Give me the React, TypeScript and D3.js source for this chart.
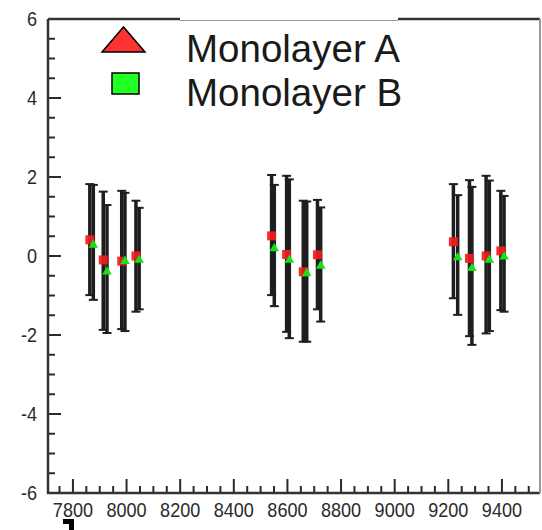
import React, { useEffect, useRef } from "react";
import * as d3 from "d3";

// Monolayer A (drawn as red squares)
const xA = [7863, 7913, 7982, 8035, 8541, 8597, 8659, 8712, 9219, 9279, 9341, 9396];
const yA = [0.41, -0.1, -0.13, 0.0, 0.51, 0.04, -0.4, 0.03, 0.36, -0.06, 0.0, 0.13];
const hiA = [1.82, 1.63, 1.65, 1.4, 2.05, 2.03, 1.4, 1.42, 1.82, 1.92, 2.03, 1.65];
const loA = [-0.99, -1.87, -1.85, -1.41, -0.99, -1.92, -2.17, -1.35, -1.07, -2.03, -1.96, -1.37];

// Monolayer B (drawn as green triangles)
const xB = [7876, 7927, 7994, 8047, 8551, 8607, 8672, 8724, 9235, 9288, 9353, 9408];
const yB = [0.28, -0.4, -0.13, -0.1, 0.19, -0.1, -0.44, -0.25, -0.04, -0.31, -0.1, -0.02];
const hiB = [1.8, 1.29, 1.6, 1.22, 1.8, 1.94, 1.38, 1.23, 1.54, 1.75, 1.91, 1.52];
const loB = [-1.11, -1.95, -1.9, -1.35, -1.27, -2.08, -2.17, -1.66, -1.49, -2.25, -1.9, -1.41];

const xTickLabels = [7800, 8000, 8200, 8400, 8600, 8800, 9000, 9200, 9400];
const yTickLabels = [6, 4, 2, 0, -2, -4, -6];
const seriesNames = ["Monolayer A", "Monolayer B"];

interface Pt {
  x: number;
  y: number;
  lo: number;
  hi: number;
}

export default function App() {
  const svgRef = useRef<SVGSVGElement>(null);

  useEffect(() => {
    const width = 542;
    const height = 530;
    const left = 48;
    const right = 540;
    const top = 19;
    const bottom = 493;

    const svg = d3.select(svgRef.current).attr("width", width).attr("height", height);
    svg.selectAll("*").remove();

    const x = d3.scaleLinear().domain([7707, 9542]).range([left, right]);
    const y = d3.scaleLinear().domain([-6, 6]).range([bottom, top]);

    const font = "'Liberation Sans', Arial, sans-serif";
    const ink = "#2a2a2a";

    // minor + major ticks on y (every 0.5)
    const yTicks = d3.range(-6, 6.01, 0.5);
    svg
      .append("g")
      .selectAll("line")
      .data(yTicks)
      .join("line")
      .attr("x1", left)
      .attr("x2", (d) => left + (Math.abs(d % 2) < 1e-6 ? 13 : 7))
      .attr("y1", (d) => y(d))
      .attr("y2", (d) => y(d))
      .attr("stroke", ink)
      .attr("stroke-width", 2);

    // minor + major ticks on x (every 50)
    const xTicks = d3.range(7750, 9501, 50);
    svg
      .append("g")
      .selectAll("line")
      .data(xTicks)
      .join("line")
      .attr("x1", (d) => x(d))
      .attr("x2", (d) => x(d))
      .attr("y1", bottom)
      .attr("y2", (d) => bottom - ((d - 7800) % 200 === 0 ? 14 : 7))
      .attr("stroke", ink)
      .attr("stroke-width", 2);

    // tick labels (slightly tall, condensed look)
    svg
      .append("g")
      .selectAll("text")
      .data(xTickLabels)
      .join("text")
      .attr("transform", (d) => `translate(${x(d)},${bottom + 24}) scale(0.95,1.1)`)
      .attr("text-anchor", "middle")
      .style("font-family", font)
      .style("font-size", "19px")
      .attr("fill", ink)
      .text((d) => String(d));

    svg
      .append("g")
      .selectAll("text")
      .data(yTickLabels)
      .join("text")
      .attr("transform", (d) => `translate(37,${y(d) + 7}) scale(0.95,1.1)`)
      .attr("text-anchor", "end")
      .style("font-family", font)
      .style("font-size", "19px")
      .attr("fill", ink)
      .text((d) => (d < 0 ? "-" + Math.abs(d) : String(d)));

    // frame
    svg
      .append("path")
      .attr("d", `M${left},${top}V${bottom}H${right}`)
      .attr("fill", "none")
      .attr("stroke", "#333")
      .attr("stroke-width", 2.5);
    svg
      .append("line")
      .attr("x1", left)
      .attr("x2", right)
      .attr("y1", top)
      .attr("y2", top)
      .attr("stroke", "#333")
      .attr("stroke-width", 2.5);
    svg
      .append("line")
      .attr("x1", right)
      .attr("x2", right)
      .attr("y1", top)
      .attr("y2", bottom)
      .attr("stroke", "#999")
      .attr("stroke-width", 2);

    const A: Pt[] = xA.map((v, i) => ({ x: v, y: yA[i], lo: loA[i], hi: hiA[i] }));
    const B: Pt[] = xB.map((v, i) => ({ x: v, y: yB[i], lo: loB[i], hi: hiB[i] }));

    // error bars
    const drawBars = (pts: Pt[]) => {
      const g = svg.append("g");
      g.selectAll("line.bar")
        .data(pts)
        .join("line")
        .attr("class", "bar")
        .attr("x1", (d) => x(d.x))
        .attr("x2", (d) => x(d.x))
        .attr("y1", (d) => y(d.lo))
        .attr("y2", (d) => y(d.hi))
        .attr("stroke", "#1e1e1e")
        .attr("stroke-width", 3.5);
      ["lo", "hi"].forEach((k) => {
        g.selectAll(`line.cap-${k}`)
          .data(pts)
          .join("line")
          .attr("class", `cap-${k}`)
          .attr("x1", (d) => x(d.x) - 4.5)
          .attr("x2", (d) => x(d.x) + 4.5)
          .attr("y1", (d) => y(d[k as "lo" | "hi"]))
          .attr("y2", (d) => y(d[k as "lo" | "hi"]))
          .attr("stroke", "#1e1e1e")
          .attr("stroke-width", 2);
      });
    };
    drawBars(A);
    drawBars(B);

    // markers
    svg
      .append("g")
      .selectAll("rect")
      .data(A)
      .join("rect")
      .attr("x", (d) => x(d.x) - 4.5)
      .attr("y", (d) => y(d.y) - 4.5)
      .attr("width", 9)
      .attr("height", 9)
      .attr("fill", "#f21c1c")
      .attr("fill-opacity", 0.92);

    const tri = d3.symbol().type(d3.symbolTriangle).size(40);
    svg
      .append("g")
      .selectAll("path")
      .data(B)
      .join("path")
      .attr("transform", (d) => `translate(${x(d.x)},${y(d.y)})`)
      .attr("d", tri)
      .attr("fill", "#18e018");

    // legend (box covers part of the top frame)
    svg
      .append("rect")
      .attr("x", 180)
      .attr("y", 16)
      .attr("width", 218)
      .attr("height", 5)
      .attr("fill", "#fff");
    svg
      .append("line")
      .attr("x1", 180)
      .attr("x2", 398)
      .attr("y1", 20.5)
      .attr("y2", 20.5)
      .attr("stroke", "#999")
      .attr("stroke-width", 1);

    const legend = svg.append("g");
    legend
      .append("path")
      .attr("d", "M102,52L145,52L123.5,27Z")
      .attr("fill", "#ff3232")
      .attr("stroke", "#000")
      .attr("stroke-width", 1.5);
    legend
      .append("rect")
      .attr("x", 112)
      .attr("y", 73)
      .attr("width", 27)
      .attr("height", 21)
      .attr("fill", "#22ff22")
      .attr("stroke", "#000")
      .attr("stroke-width", 1.5);
    legend
      .selectAll("text")
      .data(seriesNames)
      .join("text")
      .attr("x", 186)
      .attr("y", (_, i) => 62 + i * 44)
      .style("font-family", font)
      .style("font-size", "38.5px")
      .attr("fill", "#1a1a1a")
      .text((d) => d);

    // small dark mark below the first x label
    svg
      .append("path")
      .attr("d", "M63,519H74V530H69V524H63Z")
      .attr("fill", "#000");
  }, []);

  return <svg ref={svgRef} style={{ position: "absolute", left: 0, top: 0 }} />;
}
